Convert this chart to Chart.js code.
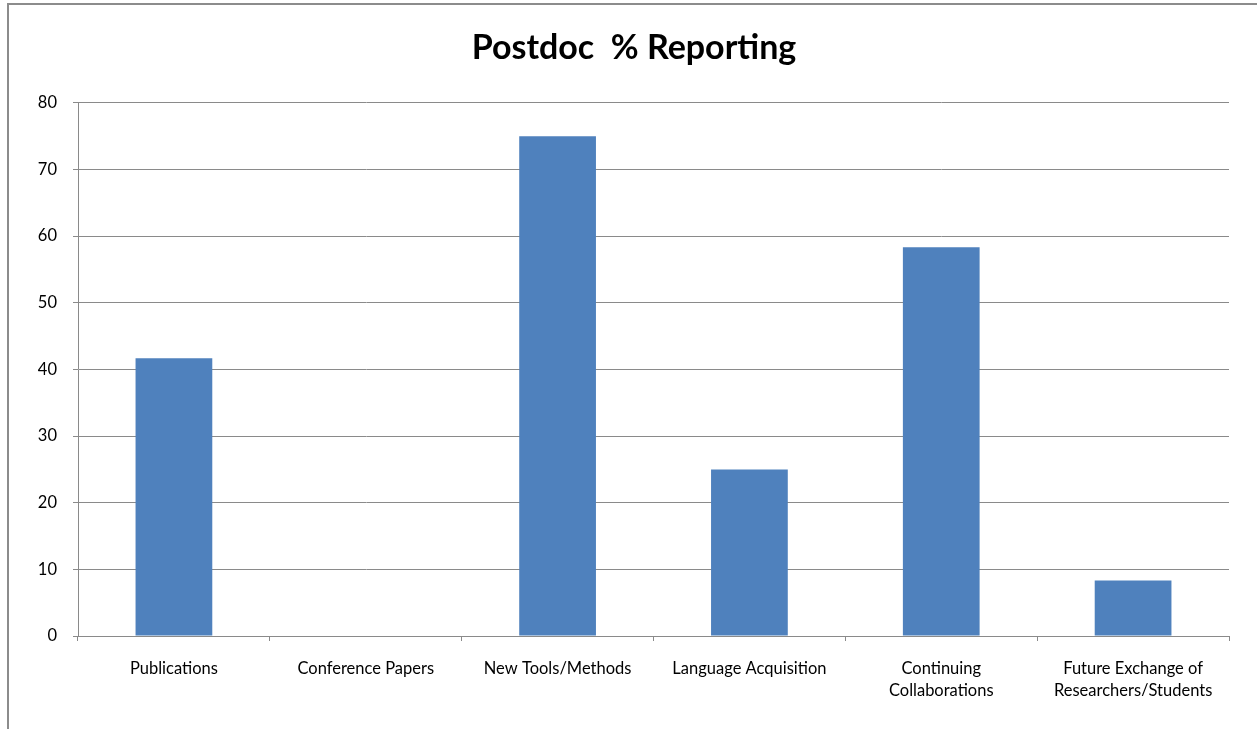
<!DOCTYPE html>
<html>
<head>
<meta charset="utf-8">
<title>Postdoc % Reporting</title>
<script src="https://cdn.jsdelivr.net/npm/chart.js@4"></script>
<style>
  html, body { margin: 0; padding: 0; background: #fff; overflow: hidden; }
  #frame {
    position: absolute; left: 7px; top: 3px; width: 1300px; height: 800px;
    border: 2px solid #8c8c8c; box-sizing: border-box;
  }
  #wrap { position: absolute; left: 0; top: 0; width: 1257px; height: 729px; }
</style>
</head>
<body>
<div id="frame"></div>
<div id="wrap"><canvas id="barChart"></canvas></div>
<script>
const categories = [
  'Publications',
  'Conference Papers',
  'New Tools/Methods',
  'Language Acquisition',
  ['Continuing', 'Collaborations'],
  ['Future Exchange of', 'Researchers/Students']
];
const percentReporting = [41.67, 0, 75, 25, 58.33, 8.33];
const yTicks = [0, 10, 20, 30, 40, 50, 60, 70, 80];

const gridGray = '#8a8a8a';
const labelFont = { family: 'Lato, "Open Sans", sans-serif', size: 16.5, lineHeight: 1.33 };

const ctx = document.getElementById('barChart').getContext('2d');
const barChart = new Chart(ctx, {
  type: 'bar',
  data: {
    labels: categories,
    datasets: [{
      label: 'Postdoc % Reporting',
      data: percentReporting,
      backgroundColor: '#4f81bd',
      borderWidth: 0,
      categoryPercentage: 1,
      barPercentage: 0.4
    }]
  },
  options: {
    responsive: true,
    maintainAspectRatio: false,
    animation: false,
    layout: { padding: { left: 11, right: 0, top: 0, bottom: 33 } },
    plugins: {
      legend: { display: false },
      tooltip: { enabled: false },
      title: {
        display: true,
        text: 'Postdoc  % Reporting',
        color: '#000',
        font: { family: 'Lato, "Open Sans", sans-serif', size: 34, weight: 'bold', lineHeight: 1.2 },
        padding: { top: 28, bottom: 34 }
      }
    },
    scales: {
      x: {
        grid: { offset: true, drawOnChartArea: false, drawTicks: true, tickLength: 5, color: gridGray },
        border: { display: true, color: gridGray, width: 1 },
        ticks: { color: '#000', font: labelFont, padding: 17, maxRotation: 0, autoSkip: false },
        afterFit: (scale) => { scale.height = 60; }
      },
      y: {
        min: 0,
        max: 80,
        afterBuildTicks: (scale) => { scale.ticks = yTicks.map(v => ({ value: v })); },
        grid: { color: gridGray, tickLength: 5, lineWidth: 1 },
        border: { display: true, color: gridGray, width: 1 },
        ticks: { color: '#000', font: labelFont, padding: 16 },
        afterFit: (scale) => { scale.width = 67; }
      },
      yRight: {
        position: 'right',
        display: true,
        grid: { display: false },
        border: { display: false },
        ticks: { display: false },
        afterFit: (scale) => { scale.width = 28; }
      }
    }
  }
});
</script>
</body>
</html>
